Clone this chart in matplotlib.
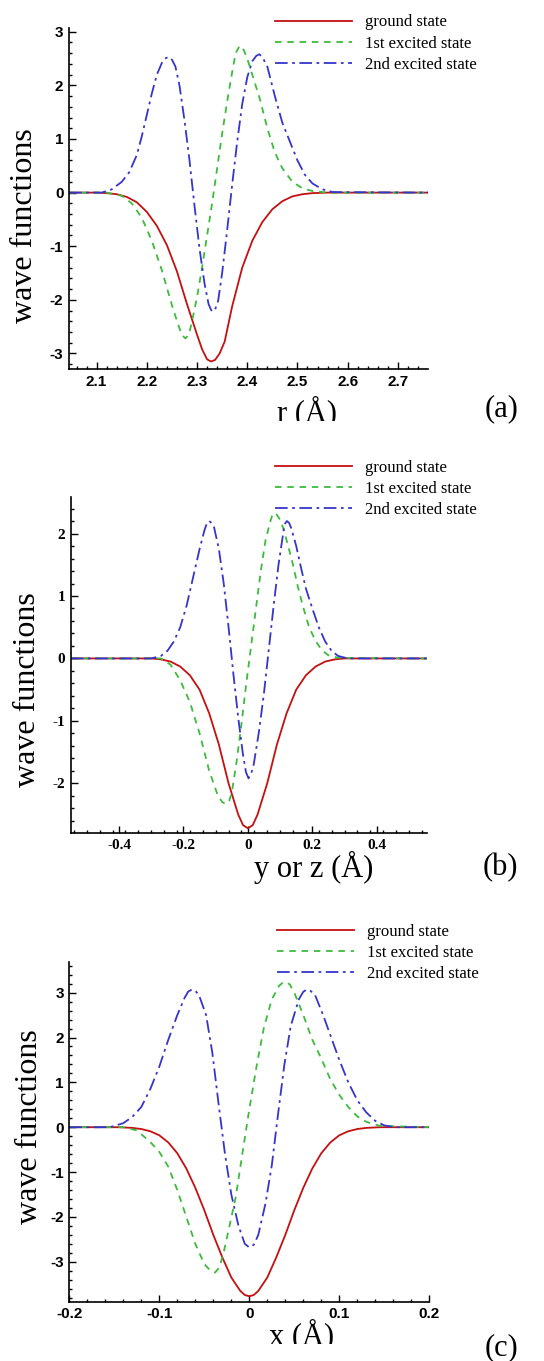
import matplotlib
matplotlib.use("Agg")
import numpy as np
import matplotlib.pyplot as plt
from matplotlib.transforms import Bbox
from matplotlib.font_manager import FontProperties
from matplotlib.ticker import FormatStrFormatter

plt.rcParams["axes.unicode_minus"] = False

# ---- panel (a): r
a_ground_x = [2.045, 2.10, 2.12, 2.14, 2.16, 2.18, 2.20, 2.22, 2.24, 2.26, 2.28, 2.30, 2.31, 2.32, 2.328,
              2.336, 2.345, 2.355, 2.37, 2.39, 2.41, 2.43, 2.45, 2.47, 2.49, 2.51, 2.53, 2.56, 2.76]
a_ground_y = [0, 0, -0.01, -0.03, -0.08, -0.18, -0.36, -0.62, -0.98, -1.47, -2.08, -2.65, -2.92, -3.11,
              -3.15, -3.12, -3.0, -2.78, -2.12, -1.4, -0.9, -0.55, -0.31, -0.16, -0.07, -0.03, -0.01, 0, 0]
a_first_x = [2.045, 2.12, 2.15, 2.17, 2.19, 2.21, 2.23, 2.25, 2.262, 2.27, 2.277, 2.284, 2.29, 2.30, 2.31,
             2.32, 2.33, 2.34, 2.35, 2.36, 2.37, 2.377, 2.385, 2.393, 2.40, 2.41, 2.425, 2.44, 2.455,
             2.47, 2.49, 2.51, 2.53, 2.56, 2.76]
a_first_y = [0, 0, -0.06, -0.2, -0.47, -0.9, -1.45, -2.1, -2.45, -2.66, -2.72, -2.64, -2.4, -1.95, -1.4,
             -0.8, -0.2, 0.45, 1.1, 1.7, 2.25, 2.6, 2.74, 2.66, 2.5, 2.2, 1.75, 1.2, 0.75, 0.45, 0.2,
             0.08, 0.03, 0, 0]
a_second_x = [2.045, 2.11, 2.13, 2.15, 2.165, 2.18, 2.19, 2.20, 2.21, 2.22, 2.23, 2.236, 2.243, 2.25,
              2.257, 2.265, 2.275, 2.285, 2.295, 2.305, 2.315, 2.323, 2.328, 2.332, 2.336, 2.342, 2.35,
              2.36, 2.37, 2.38, 2.39, 2.40, 2.41, 2.418, 2.424, 2.43, 2.44, 2.455, 2.47, 2.485, 2.50,
              2.515, 2.53, 2.55, 2.57, 2.76]
a_second_y = [0, 0, 0.06, 0.2, 0.38, 0.7, 1.05, 1.45, 1.85, 2.2, 2.42, 2.5, 2.53, 2.48, 2.35, 2.0, 1.35,
              0.6, -0.25, -1.05, -1.7, -2.08, -2.19, -2.22, -2.18, -2.02, -1.5, -0.7, 0.15, 0.95, 1.65,
              2.15, 2.45, 2.55, 2.58, 2.53, 2.35, 1.8, 1.3, 0.95, 0.6, 0.33, 0.17, 0.06, 0.01, 0]

# ---- panel (b): y or z
b_ground_x = [-0.55, -0.30, -0.27, -0.24, -0.21, -0.18, -0.15, -0.12, -0.09, -0.06, -0.03, -0.015, 0.0,
              0.015, 0.03, 0.06, 0.09, 0.12, 0.15, 0.18, 0.21, 0.24, 0.27, 0.30, 0.555]
b_ground_y = [0, 0, -0.015, -0.05, -0.13, -0.27, -0.5, -0.88, -1.38, -2.0, -2.5, -2.67, -2.72,
              -2.67, -2.5, -2.0, -1.38, -0.88, -0.5, -0.27, -0.13, -0.05, -0.015, 0, 0]
b_first_x = [-0.55, -0.27, -0.24, -0.21, -0.18, -0.15, -0.12, -0.095, -0.08, -0.068, -0.058, -0.05,
             -0.035, -0.02, -0.005, 0.01, 0.025, 0.04, 0.055, 0.07, 0.076, 0.082, 0.09, 0.1, 0.11,
             0.125, 0.14, 0.155, 0.17, 0.19, 0.21, 0.23, 0.25, 0.28, 0.555]
b_first_y = [0, 0, -0.1, -0.35, -0.7, -1.2, -1.8, -2.17, -2.3, -2.33, -2.28, -2.15, -1.65, -1.05, -0.4,
             0.2, 0.8, 1.4, 1.9, 2.2, 2.3, 2.33, 2.3, 2.22, 2.08, 1.8, 1.5, 1.15, 0.85, 0.5, 0.28,
             0.13, 0.05, 0.01, 0]
b_second_x = [-0.55, -0.30, -0.27, -0.25, -0.23, -0.21, -0.19, -0.17, -0.15, -0.135, -0.127, -0.12,
              -0.113, -0.105, -0.09, -0.075, -0.06, -0.045, -0.03, -0.015, -0.006, 0.002, 0.01, 0.018,
              0.035, 0.05, 0.065, 0.08, 0.095, 0.108, 0.114, 0.121, 0.128, 0.135, 0.15, 0.165, 0.18,
              0.2, 0.22, 0.24, 0.26, 0.28, 0.31, 0.555]
b_second_y = [0, 0, 0.04, 0.12, 0.27, 0.5, 0.85, 1.3, 1.75, 2.05, 2.17, 2.2, 2.17, 2.1, 1.75, 1.2, 0.5,
              -0.25, -0.95, -1.55, -1.82, -1.92, -1.85, -1.7, -1.15, -0.55, 0.15, 0.85, 1.5, 1.95, 2.15,
              2.2, 2.17, 2.08, 1.8, 1.45, 1.12, 0.8, 0.5, 0.27, 0.12, 0.04, 0, 0]

# ---- panel (c): x
c_ground_x = [-0.2, -0.145, -0.13, -0.12, -0.11, -0.10, -0.09, -0.08, -0.07, -0.06, -0.05, -0.04,
              -0.03, -0.02, -0.01, -0.005, 0.0, 0.005, 0.01, 0.02, 0.03, 0.04, 0.05, 0.06, 0.07, 0.08,
              0.09, 0.10, 0.11, 0.12, 0.13, 0.145, 0.2]
c_ground_y = [0, 0, -0.015, -0.04, -0.09, -0.18, -0.34, -0.58, -0.92, -1.35, -1.85, -2.4, -2.9,
              -3.35, -3.65, -3.74, -3.77, -3.74, -3.65, -3.35, -2.9, -2.4, -1.85, -1.35, -0.92, -0.58,
              -0.34, -0.18, -0.09, -0.04, -0.015, 0, 0]
c_first_x = [-0.2, -0.14, -0.125, -0.11, -0.1, -0.09, -0.08, -0.07, -0.06, -0.05, -0.044, -0.038,
             -0.033, -0.028, -0.022, -0.015, -0.007, 0.0, 0.008, 0.016, 0.025, 0.033, 0.037, 0.041,
             0.045, 0.05, 0.06, 0.07, 0.08, 0.09, 0.10, 0.11, 0.12, 0.13, 0.145, 0.2]
c_first_y = [0, 0, -0.07, -0.33, -0.55, -0.88, -1.4, -2.0, -2.6, -3.05, -3.18, -3.24, -3.12, -2.75,
             -2.2, -1.55, -0.5, 0.4, 1.35, 2.2, 2.85, 3.15, 3.22, 3.24, 3.18, 3.0, 2.5, 1.95, 1.53,
             1.07, 0.72, 0.45, 0.24, 0.12, 0.03, 0]
c_second_x = [-0.2, -0.155, -0.14, -0.13, -0.12, -0.11, -0.1, -0.09, -0.08, -0.072, -0.068, -0.064,
              -0.06, -0.056, -0.048, -0.041, -0.034, -0.027, -0.02, -0.012, -0.005, 0.0, 0.005, 0.01,
              0.018, 0.025, 0.032, 0.039, 0.046, 0.055, 0.06, 0.064, 0.068, 0.073, 0.082, 0.091, 0.1,
              0.11, 0.12, 0.13, 0.14, 0.15, 0.162, 0.2]
c_second_y = [0, 0, 0.09, 0.23, 0.45, 0.85, 1.35, 1.95, 2.5, 2.88, 3.02, 3.07, 3.04, 2.95, 2.5, 1.65,
              0.5, -0.6, -1.5, -2.2, -2.6, -2.68, -2.62, -2.4, -1.7, -0.85, 0.3, 1.4, 2.25, 2.85, 3.02,
              3.07, 3.04, 2.95, 2.5, 2.0, 1.5, 1.0, 0.6, 0.33, 0.14, 0.04, 0, 0]

labels = ["ground state", "1st excited state", "2nd excited state"]

W, H = 544, 1361
RED, GREEN, BLUE = "#c41010", "#3cbb3c", "#3535cc"

fig = plt.figure(figsize=(W / 100, H / 100), dpi=100)


def px(x, y):
    return x / W, 1 - y / H


def make_panel(box, xlim, ylim, xmajor, xminor, ymajor, yminor, tickfont, curves,
               legend_at, ylab_at, xlab, xlab_at, tag, tag_at, clip_y):
    l, t, r, b = box
    ax = fig.add_axes([l / W, 1 - b / H, (r - l) / W, (b - t) / H])
    styles = [dict(color=RED, lw=1.3, ls="-"),
              dict(color=GREEN, lw=1.3, ls=(0, (3.6, 3.2))),
              dict(color=BLUE, lw=1.3, ls=(0, (7, 2.5, 1.5, 2.5)))]
    for (xs, ys), lab, st in zip(curves, labels, styles):
        ax.plot(xs, ys, label=lab, **st)
    ax.set_xlim(*xlim)
    ax.set_ylim(*ylim)
    for s in ("top", "right"):
        ax.spines[s].set_visible(False)
    for s in ("left", "bottom"):
        ax.spines[s].set_linewidth(1.2)
    ax.set_xticks(xmajor)
    ax.set_xticks(xminor, minor=True)
    ax.set_yticks(ymajor)
    ax.set_yticks(yminor, minor=True)
    ax.xaxis.set_major_formatter(FormatStrFormatter("%g"))
    ax.yaxis.set_major_formatter(FormatStrFormatter("%g"))
    ax.tick_params(which="both", direction="in", top=False, right=False, width=1.0)
    ax.tick_params(which="major", length=5, pad=4)
    ax.tick_params(which="minor", length=2.2)
    for lb in ax.get_xticklabels() + ax.get_yticklabels():
        lb.set_fontproperties(tickfont)
    ax.legend(loc="upper left", bbox_to_anchor=px(*legend_at), bbox_transform=fig.transFigure,
              frameon=False, borderpad=0, borderaxespad=0, handlelength=4.6, handletextpad=0.8,
              labelspacing=0.31, prop=dict(family="Liberation Serif", size=12))
    fig.text(*px(*ylab_at), "wave functions", rotation=90, ha="center", va="center",
             family="Liberation Serif", size=23)
    # the axis title is cut off at the bottom in the original
    t1 = fig.text(*px(*xlab_at), xlab, ha="center", va="baseline", family="Liberation Serif", size=22)
    t1.set_clip_box(Bbox([[0, H - clip_y], [W, H]]))
    t1.set_clip_on(True)
    fig.text(*px(*tag_at), tag, ha="center", va="baseline", family="Liberation Serif", size=22)
    return ax


sans_bold = dict(family="Liberation Sans", weight="bold", size=11)
serif_bold = dict(family="Liberation Serif", weight="bold", size=11)

# (a)
make_panel((69, 28, 428, 369), (2.045, 2.76), (-3.29, 3.07),
           [2.1, 2.2, 2.3, 2.4, 2.5, 2.6, 2.7], np.arange(2.06, 2.76, 0.02),
           [-3, -2, -1, 0, 1, 2, 3], np.arange(-3.2, 3.05, 0.2),
           FontProperties(**sans_bold),
           [(a_ground_x, a_ground_y), (a_first_x, a_first_y), (a_second_x, a_second_y)],
           (275, 14.5), (25, 226), "r (Å)", (307, 421), "(a)", (502, 416), 421)

# (b)
make_panel((70.7, 496.7, 426.7, 833.3), (-0.55, 0.555), (-2.8, 2.59),
           [-0.4, -0.2, 0, 0.2, 0.4], np.arange(-0.54, 0.555, 0.04),
           [-2, -1, 0, 1, 2], np.arange(-2.6, 2.59, 0.2),
           FontProperties(**serif_bold),
           [(b_ground_x, b_ground_y), (b_first_x, b_first_y), (b_second_x, b_second_y)],
           (275, 459.5), (28, 690), "y or z (Å)", (314, 877), "(b)", (500, 875), 900)

# (c)
make_panel((69.3, 961.7, 429.3, 1301.7), (-0.2, 0.2), (-3.89, 3.69),
           [-0.2, -0.1, 0, 0.1, 0.2], np.arange(-0.2, 0.201, 0.02),
           [-3, -2, -1, 0, 1, 2, 3], np.arange(-3.8, 3.65, 0.2),
           FontProperties(**sans_bold),
           [(c_ground_x, c_ground_y), (c_first_x, c_first_y), (c_second_x, c_second_y)],
           (277, 923.5), (30, 1127), "x (Å)", (302, 1344), "(c)", (502, 1355), 1344)

fig.savefig("out.png", dpi=100)
